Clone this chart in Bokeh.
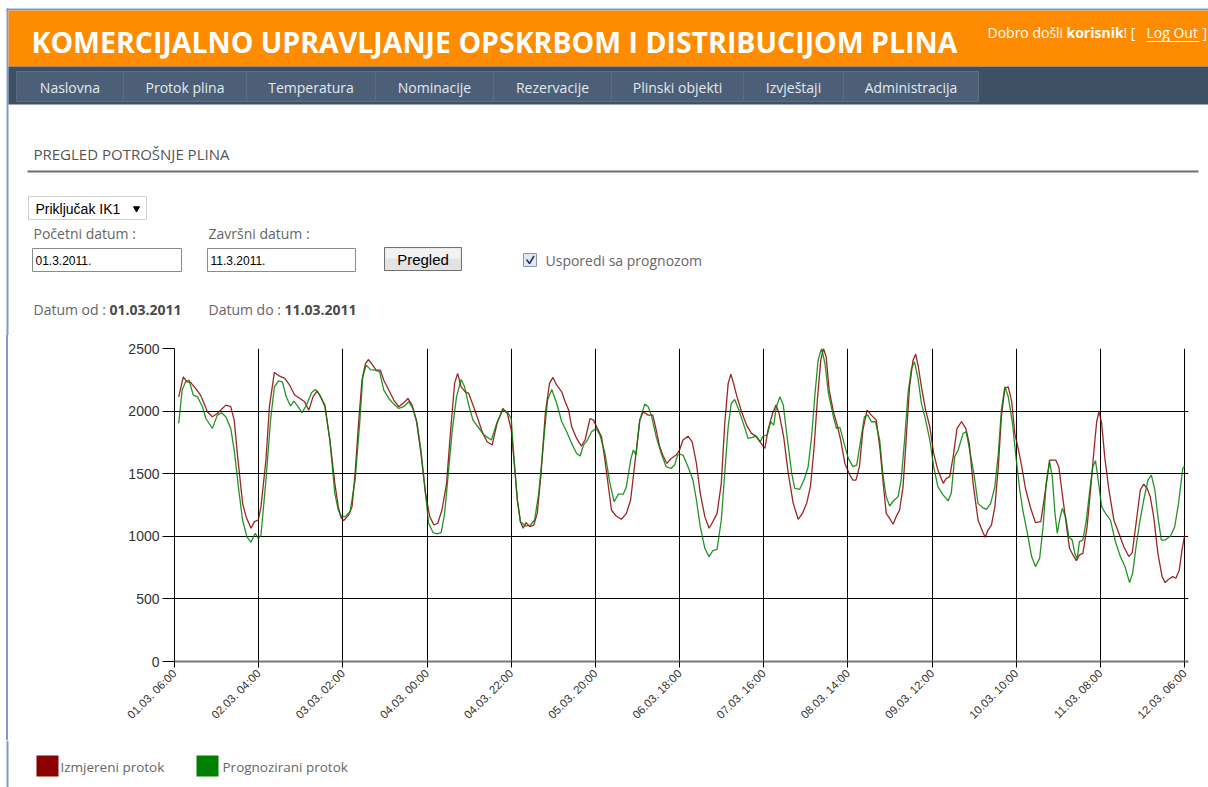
from math import radians
from bokeh.plotting import figure
from bokeh.models import Range1d, FixedTicker
from bokeh.embed import file_html
from bokeh.resources import INLINE
from bokeh.core.properties import value

# ---------------- data ----------------
tick_labels = ["01.03. 06:00", "02.03. 04:00", "03.03. 02:00", "04.03. 00:00",
               "04.03. 22:00", "05.03. 20:00", "06.03. 18:00", "07.03. 16:00",
               "08.03. 14:00", "09.03. 12:00", "10.03. 10:00", "11.03. 08:00",
               "12.03. 06:00"]
tick_hours = [0, 22, 44, 66, 88, 110, 132, 154, 176, 198, 220, 242, 264]
y_ticks = [0, 500, 1000, 1500, 2000, 2500]
series_names = ["Izmjereni protok", "Prognozirani protok"]
nav_items = ["Naslovna", "Protok plina", "Temperatura", "Nominacije", "Rezervacije",
             "Plinski objekti", "Izvještaji", "Administracija"]

# hours since 01.03.2011 06:00
red_hours = [1.1, 2.3, 3.3, 4.2, 5.5, 6.8, 8.6, 9.9, 11.2, 13.4, 14.7, 15.6, 16.5, 17.8, 18.7,
             20.0, 20.9, 21.9, 22.6, 23.9, 24.8, 26.1, 27.5, 28.8, 30.1, 31.4, 32.8, 34.0, 35.1,
             36.2, 37.3, 38.4, 39.3, 40.6, 41.9, 42.8, 43.5, 44.2, 45.5, 46.4, 47.2, 48.1, 49.0,
             49.9, 50.7, 51.6, 52.7, 53.8, 54.7, 56.0, 57.3, 58.6, 59.9, 61.0, 62.1, 63.2, 64.3,
             65.6, 66.7, 67.8, 68.8, 69.9, 71.1, 72.1, 73.2, 74.0, 74.9, 76.0, 76.9, 78.0, 79.1,
             80.4, 81.7, 83.0, 84.3, 85.8, 87.0, 88.0, 88.8, 89.6, 90.4, 91.1, 91.9, 92.8, 93.9,
             94.8, 95.8, 96.9, 98.0, 98.9, 99.9, 101.2, 102.1, 103.0, 103.8, 105.1, 106.3, 107.3,
             108.6, 109.5, 110.5, 111.6, 112.5, 113.4, 114.2, 115.4, 116.8, 118.1, 119.2, 120.3,
             121.6, 122.5, 123.8, 125.0, 125.9, 126.8, 127.6, 128.7, 129.8, 131.1, 132.0, 132.9,
             134.2, 135.3, 136.4, 137.4, 138.6, 139.7, 140.7, 141.8, 142.9, 143.8, 144.7, 145.4,
             146.1, 147.0, 148.2, 149.5, 150.8, 151.9, 153.0, 154.3, 155.1, 156.3, 157.2, 158.0,
             159.2, 160.4, 161.7, 163.0, 164.1, 165.2, 166.2, 167.1, 168.0, 168.9, 169.6, 170.3,
             171.1, 172.2, 173.2, 174.1, 175.2, 176.5, 177.3, 178.1, 179.0, 179.9, 181.0, 182.1,
             183.4, 184.4, 185.3, 186.0, 186.9, 187.8, 188.6, 189.5, 190.4, 191.2, 192.1, 193.0,
             193.7, 194.4, 195.2, 196.3, 197.4, 198.4, 199.5, 200.9, 201.7, 202.6, 203.5, 204.5,
             205.7, 206.8, 207.7, 208.7, 210.0, 211.2, 211.9, 212.6, 213.5, 214.4, 215.3, 216.1,
             217.0, 217.9, 218.8, 219.6, 220.5, 221.4, 222.4, 223.7, 225.0, 226.4, 227.5, 228.7,
             230.3, 231.1, 232.0, 232.9, 233.9, 234.8, 235.7, 236.5, 237.4, 238.5, 239.4, 240.3,
             241.0, 241.6, 242.3, 243.1, 244.2, 245.5, 246.8, 248.1, 249.4, 250.3, 251.3, 252.4,
             253.3, 254.2, 255.0, 255.9, 257.0, 258.1, 258.9, 259.8, 260.9, 261.7, 262.6, 263.3,
             264.0]
red_flow = [2114, 2274, 2234, 2229, 2181, 2128, 1995, 1955, 1981, 2048, 2035, 1928, 1636, 1263, 1157,
            1064, 1117, 1130, 1237, 1609, 2035, 2309, 2279, 2261, 2207, 2128, 2101, 2074, 2008,
            2114, 2162, 2101, 2048, 1769, 1423, 1237, 1150, 1125, 1170, 1237, 1503, 1902, 2247,
            2380, 2412, 2375, 2327, 2327, 2247, 2168, 2088, 2035, 2067, 2101, 2048, 1928, 1689,
            1343, 1157, 1090, 1104, 1210, 1423, 1822, 2221, 2301, 2194, 2154, 2141, 2048, 1955,
            1835, 1755, 1729, 1902, 2021, 1981, 1850, 1580, 1290, 1117, 1064, 1109, 1077, 1090,
            1183, 1503, 1981, 2221, 2269, 2207, 2154, 2075, 2008, 1875, 1782, 1721, 1769,
            1941, 1928, 1862, 1795, 1609, 1396, 1210, 1162, 1136, 1183, 1290, 1582,
            1928, 1995, 1968, 1968, 1848, 1715, 1649, 1582, 1622, 1649, 1689, 1769,
            1800, 1755, 1582, 1343, 1157, 1064, 1117, 1183, 1423, 1902, 2221, 2295,
            2221, 2114, 1995, 1888, 1822, 1800, 1755, 1702, 1848, 1981, 2048, 1981,
            1795, 1503, 1263, 1136, 1183, 1263, 1396, 1689, 2088, 2407, 2500, 2434,
            2168, 1995, 1888, 1769, 1582, 1489, 1449, 1449, 1556, 1848, 2008, 1968,
            1928, 1689, 1396, 1183, 1143, 1096, 1157, 1210, 1396, 1769, 2194, 2407,
            2455, 2354, 2194, 2008, 1875, 1662, 1529, 1423, 1463, 1476, 1636, 1862,
            1915, 1862, 1742, 1423, 1130, 1037, 992, 1050, 1090, 1237, 1556, 1955,
            2181, 2194, 2075, 1822, 1700, 1560, 1380, 1230, 1109, 1117, 1343, 1609,
            1609, 1556, 1343, 1130, 904, 851, 806, 851, 864, 1077, 1370, 1689,
            1915, 1995, 1902, 1636, 1370, 1130, 1024, 917, 838, 870, 1104, 1370,
            1417, 1383, 1316, 1157, 864, 678, 630, 657, 678, 665, 731, 891,
            1010]

green_hours = [1.1, 2.0, 2.9, 3.8, 4.9, 6.0, 7.3, 8.2, 9.9, 11.2, 12.3, 13.4, 14.7, 15.6, 16.9,
               17.8, 18.9, 20.0, 21.1, 21.9, 22.6, 23.9, 25.1, 26.1, 27.2, 28.2, 29.2, 30.3, 31.2,
               32.3, 33.3, 34.5, 35.8, 36.8, 38.0, 39.3, 40.6, 41.9, 42.8, 43.6, 44.6, 45.9, 47.2,
               48.4, 49.2, 50.1, 51.2, 52.5, 53.6, 54.7, 56.0, 57.3, 58.6, 59.9, 61.2, 62.3, 63.4,
               64.4, 65.6, 66.4, 67.6, 68.6, 69.7, 70.6, 71.4, 72.6, 73.7, 74.9, 75.8, 76.9, 78.0,
               79.3, 80.9, 82.8, 84.2, 85.7, 87.0, 88.0, 88.7, 89.6, 90.4, 91.7, 93.0, 94.1, 95.2,
               96.5, 97.5, 98.6, 99.9, 101.2, 102.5, 103.8, 105.1, 106.0, 106.9, 107.9, 109.0,
               110.2, 111.2, 112.5, 113.8, 114.9, 116.0, 117.3, 118.1, 119.2, 119.9, 120.6, 121.6,
               122.9, 123.8, 124.6, 125.9, 127.2, 128.5, 129.8, 130.7, 131.5, 132.0, 132.9, 134.2,
               135.5, 136.4, 137.4, 138.6, 139.7, 140.7, 141.8, 142.9, 143.8, 144.7, 145.5, 146.4,
               147.5, 148.8, 149.9, 151.0, 152.1, 153.1, 153.8, 154.9, 155.8, 156.6, 157.3, 158.2,
               159.1, 160.1, 161.3, 162.1, 163.4, 164.5, 165.6, 166.5, 167.4, 168.2, 169.1, 170.0,
               170.9, 172.2, 173.0, 173.9, 175.0, 176.1, 177.3, 178.3, 179.2, 180.3, 181.2, 182.1,
               183.2, 184.3, 185.1, 186.0, 186.9, 187.9, 189.1, 189.9, 190.8, 191.7, 192.6, 193.4,
               194.3, 195.2, 196.3, 197.4, 198.4, 199.5, 200.9, 202.2, 203.0, 203.9, 204.8, 206.1,
               206.9, 207.8, 208.9, 210.0, 211.2, 212.2, 213.3, 214.4, 215.3, 216.1, 217.0, 217.9,
               219.0, 219.9, 220.9, 221.7, 222.9, 224.0, 225.0, 226.1, 227.0, 227.8, 228.7, 229.4,
               230.1, 230.7, 231.3, 232.0, 232.9, 233.7, 234.6, 235.3, 235.9, 236.5, 237.4, 238.3,
               239.1, 240.0, 240.7, 241.4, 242.3, 243.3, 244.6, 245.9, 247.2, 248.4, 249.6, 250.4,
               251.3, 252.2, 253.3, 254.4, 255.3, 256.2, 257.0, 257.9, 258.9, 260.3, 261.4, 262.4,
               263.5, 264.0]
green_flow = [1902, 2168, 2234, 2247, 2128, 2114, 2035, 1941, 1862, 1968, 1987, 1955, 1862, 1689, 1343,
              1130, 997, 952, 1024, 984, 1010, 1449, 1928, 2194, 2242, 2234, 2114, 2040, 2080,
              2035, 1987, 2048, 2146, 2173, 2128, 2035, 1769, 1343, 1210, 1160, 1157, 1197, 1449,
              1902, 2274, 2367, 2332, 2327, 2314, 2168, 2101, 2056, 2021, 2035, 2075, 2021, 1902,
              1689, 1343, 1104, 1029, 1019, 1029, 1184, 1449, 1848, 2114, 2253, 2194, 2048, 1928,
              1875, 1808, 1769, 1902, 2003, 1995, 1940, 1636, 1290, 1117, 1082, 1090, 1130, 1343,
              1769, 2088, 2173, 2061, 1915, 1835, 1742, 1662, 1641, 1729, 1769, 1835,
              1862, 1808, 1662, 1423, 1276, 1337, 1337, 1396, 1609, 1689, 1649, 1928,
              2056, 2035, 1968, 1795, 1662, 1556, 1543, 1569, 1649, 1657, 1649, 1556,
              1449, 1290, 1077, 904, 838, 885, 896, 1130, 1503, 1875, 2061, 2093,
              2008, 1888, 1782, 1790, 1800, 1755, 1800, 1808, 1915, 1888, 2035, 2114,
              2048, 1795, 1503, 1383, 1375, 1449, 1556, 1795, 2141, 2407, 2500, 2380,
              2141, 1955, 1862, 1870, 1742, 1622, 1556, 1569, 1742, 1955, 1968, 1915,
              1915, 1769, 1503, 1316, 1242, 1284, 1316, 1449, 1769, 2141, 2340, 2394,
              2261, 2061, 1928, 1769, 1556, 1396, 1329, 1284, 1343, 1636, 1689, 1822,
              1835, 1689, 1503, 1263, 1229, 1215, 1263, 1396, 1662, 2008, 2194, 2114,
              1902, 1636, 1370, 1210, 1024, 838, 758, 824, 1077, 1423, 1596, 1476,
              1183, 1024, 1130, 1223, 1157, 997, 970, 864, 816, 957, 970, 1130,
              1343, 1556, 1604, 1449, 1237, 1184, 1130, 957, 838, 758, 630, 705,
              917, 1104, 1290, 1449, 1489, 1370, 1157, 970, 970, 1003, 1077, 1263,
              1543, 1560]

RED = "#8B0000"
GREEN = "#008000"
W = 1208
UI_FONT = value("Open Sans")
ARIAL = value("Liberation Sans")
BLUE_EDGE = "#7d9ccc"

# ---------------- page header / form (1 unit = 1 px, page coordinates) ----------------
top = figure(width=W, height=335, x_range=Range1d(0, W), y_range=Range1d(335, 0),
             x_axis_type=None, y_axis_type=None, toolbar_location=None,
             output_backend="svg", min_border=0, outline_line_color=None)

top.quad(left=6, right=W, top=8, bottom=10, fill_color=BLUE_EDGE, line_color=None)
top.quad(left=6, right=8, top=8, bottom=335, fill_color=BLUE_EDGE, line_color=None)
top.quad(left=8, right=W, top=10, bottom=66, fill_color="#FF8C00", line_color=None)
top.text(x=[31], y=[41], text=["KOMERCIJALNO UPRAVLJANJE OPSKRBOM I DISTRIBUCIJOM PLINA"],
         text_font=UI_FONT, text_font_style="bold", text_font_size="28.5px",
         text_color="white", text_baseline="middle")
top.text(x=[987], y=[32], text=["Dobro došli"], text_font=UI_FONT, text_font_size="14px",
         text_color="white", text_baseline="middle")
top.text(x=[1066], y=[32], text=["korisnik"], text_font=UI_FONT, text_font_size="14px",
         text_font_style="bold", text_color="white", text_baseline="middle")
top.text(x=[1123], y=[32], text=["! ["], text_font=UI_FONT, text_font_size="14px",
         text_color="white", text_baseline="middle")
top.text(x=[1146], y=[32], text=["Log Out"], text_font=UI_FONT, text_font_size="14px",
         text_color="white", text_baseline="middle")
top.text(x=[1202], y=[32], text=["]"], text_font=UI_FONT, text_font_size="14px",
         text_color="white", text_baseline="middle")
top.segment(x0=[1146], y0=[41], x1=[1199], y1=[41], line_color="white", line_width=1)

# navigation bar
top.quad(left=8, right=W, top=66, bottom=104, fill_color="#3e5064", line_color=None)
nav_edges = [16, 123, 246, 375, 493, 611, 743, 843, 978]
top.quad(left=nav_edges[:-1], right=nav_edges[1:], top=71, bottom=101,
         fill_color="#4b6077", line_color="#5a6f86", line_width=1)
top.text(x=[(a + b) / 2 for a, b in zip(nav_edges[:-1], nav_edges[1:])], y=[87] * 8,
         text=nav_items, text_font=UI_FONT, text_font_size="14px", text_color="#e4e9ef",
         text_align="center", text_baseline="middle")

# section title + rule
top.text(x=[33], y=[153], text=["PREGLED POTROŠNJE PLINA"], text_font=UI_FONT,
         text_font_size="15px", text_color="#555555", text_baseline="middle")
top.quad(left=27, right=1198, top=170, bottom=172, fill_color="#6e6e6e", line_color=None)

# select
top.quad(left=28, right=146, top=196, bottom=219, fill_color="white", line_color="#d0d0d0")
top.text(x=[35], y=[208], text=["Priključak IK1"], text_font=ARIAL, text_font_size="14px",
         text_color="black", text_baseline="middle")
top.scatter(x=[136], y=[208], marker="inverted_triangle", size=6, fill_color="black",
            line_color="black")

# date labels + inputs
top.text(x=[33, 208], y=[233, 233], text=["Početni datum :", "Završni datum :"],
         text_font=UI_FONT, text_font_size="14px", text_color="#666666", text_baseline="middle")
top.quad(left=[32, 207], right=[181, 355], top=248, bottom=271, fill_color="white",
         line_color="#8a8a8a")
top.text(x=[35, 210], y=[260, 260], text=["01.3.2011.", "11.3.2011."], text_font=ARIAL,
         text_font_size="12px", text_color="black", text_baseline="middle")

# button
top.quad(left=384, right=461, top=247, bottom=270, fill_color="#e3e3e3", line_color="#707070")
top.quad(left=385, right=460, top=248, bottom=258, fill_color="#f2f2f2", line_color=None)
top.text(x=[422.5], y=[259], text=["Pregled"], text_font=ARIAL, text_font_size="15px",
         text_color="black", text_align="center", text_baseline="middle")

# checkbox
top.quad(left=523, right=536, top=253, bottom=266, fill_color="#dfe8f4", line_color="#8a97a8")
top.line(x=[526, 529, 533.5], y=[259, 263, 255.5], line_color="#2a3a5a", line_width=1.6)
top.text(x=[545], y=[260], text=["Usporedi sa prognozom"], text_font=UI_FONT,
         text_font_size="14px", text_color="#666666", text_baseline="middle")

# date range summary
top.text(x=[33, 208], y=[309, 309], text=["Datum od :", "Datum do :"], text_font=UI_FONT,
         text_font_size="14px", text_color="#666666", text_baseline="middle")
top.text(x=[109, 284], y=[309, 309], text=["01.03.2011", "11.03.2011"], text_font=UI_FONT,
         text_font_size="14px", text_font_style="bold", text_color="#4a4a4a",
         text_baseline="middle")

# ---------------- chart ----------------
p = figure(width=W - 8, height=405, x_range=Range1d(0, 265), y_range=Range1d(0, 2500),
           toolbar_location=None, output_backend="svg",
           min_border_left=166, min_border_right=20, min_border_top=13, min_border_bottom=79,
           outline_line_color=None,
           styles={"margin-left": "8px", "box-shadow": "-2px 0 0 0 " + BLUE_EDGE})

p.line(red_hours, red_flow, line_color=RED, line_width=1.3, line_alpha=0.85)
p.line(green_hours, green_flow, line_color=GREEN, line_width=1.3, line_alpha=0.85)

p.xaxis.ticker = FixedTicker(ticks=tick_hours)
p.xaxis.major_label_overrides = {h: lab for h, lab in zip(tick_hours, tick_labels)}
p.xaxis.major_label_orientation = radians(45)
p.xaxis.major_label_text_font = "Liberation Sans"
p.xaxis.major_label_text_font_size = "11.5px"
p.xaxis.major_label_text_color = "#333333"
p.xaxis.axis_line_color = "#777777"
p.xaxis.axis_line_width = 2
p.xaxis.major_tick_out = 6
p.xaxis.major_tick_in = 0
p.xaxis.minor_tick_line_color = None
p.xaxis.major_label_standoff = 4

p.yaxis.ticker = FixedTicker(ticks=y_ticks)
p.yaxis.major_label_overrides = {t: str(t) for t in y_ticks}
p.yaxis.major_label_text_font = "Liberation Sans"
p.yaxis.major_label_text_font_size = "14px"
p.yaxis.major_label_text_color = "#333333"
p.yaxis.axis_line_color = "black"
p.yaxis.major_tick_out = 12
p.yaxis.major_tick_in = 0
p.yaxis.minor_tick_line_color = None
p.yaxis.major_label_standoff = 3

p.xgrid.ticker = FixedTicker(ticks=tick_hours)
p.ygrid.ticker = FixedTicker(ticks=y_ticks)
p.xgrid.grid_line_color = "black"
p.ygrid.grid_line_color = "black"
p.xgrid.grid_line_width = 1
p.ygrid.grid_line_width = 1

# ---------------- legend strip ----------------
leg = figure(width=W, height=47, x_range=Range1d(0, W), y_range=Range1d(787, 740),
             x_axis_type=None, y_axis_type=None, toolbar_location=None,
             output_backend="svg", min_border=0, outline_line_color=None)
leg.quad(left=6, right=8, top=740, bottom=787, fill_color=BLUE_EDGE, line_color=None)
leg.quad(left=[36, 196], right=[58, 218], top=[755, 755], bottom=[776, 776],
         fill_color=[RED, GREEN], line_color=None)
leg.text(x=[60, 222], y=[766, 766], text=series_names, text_font=UI_FONT,
         text_font_size="13.5px", text_color="#666666", text_baseline="middle")

open("out.html", "w").write(file_html([top, p, leg], INLINE))
